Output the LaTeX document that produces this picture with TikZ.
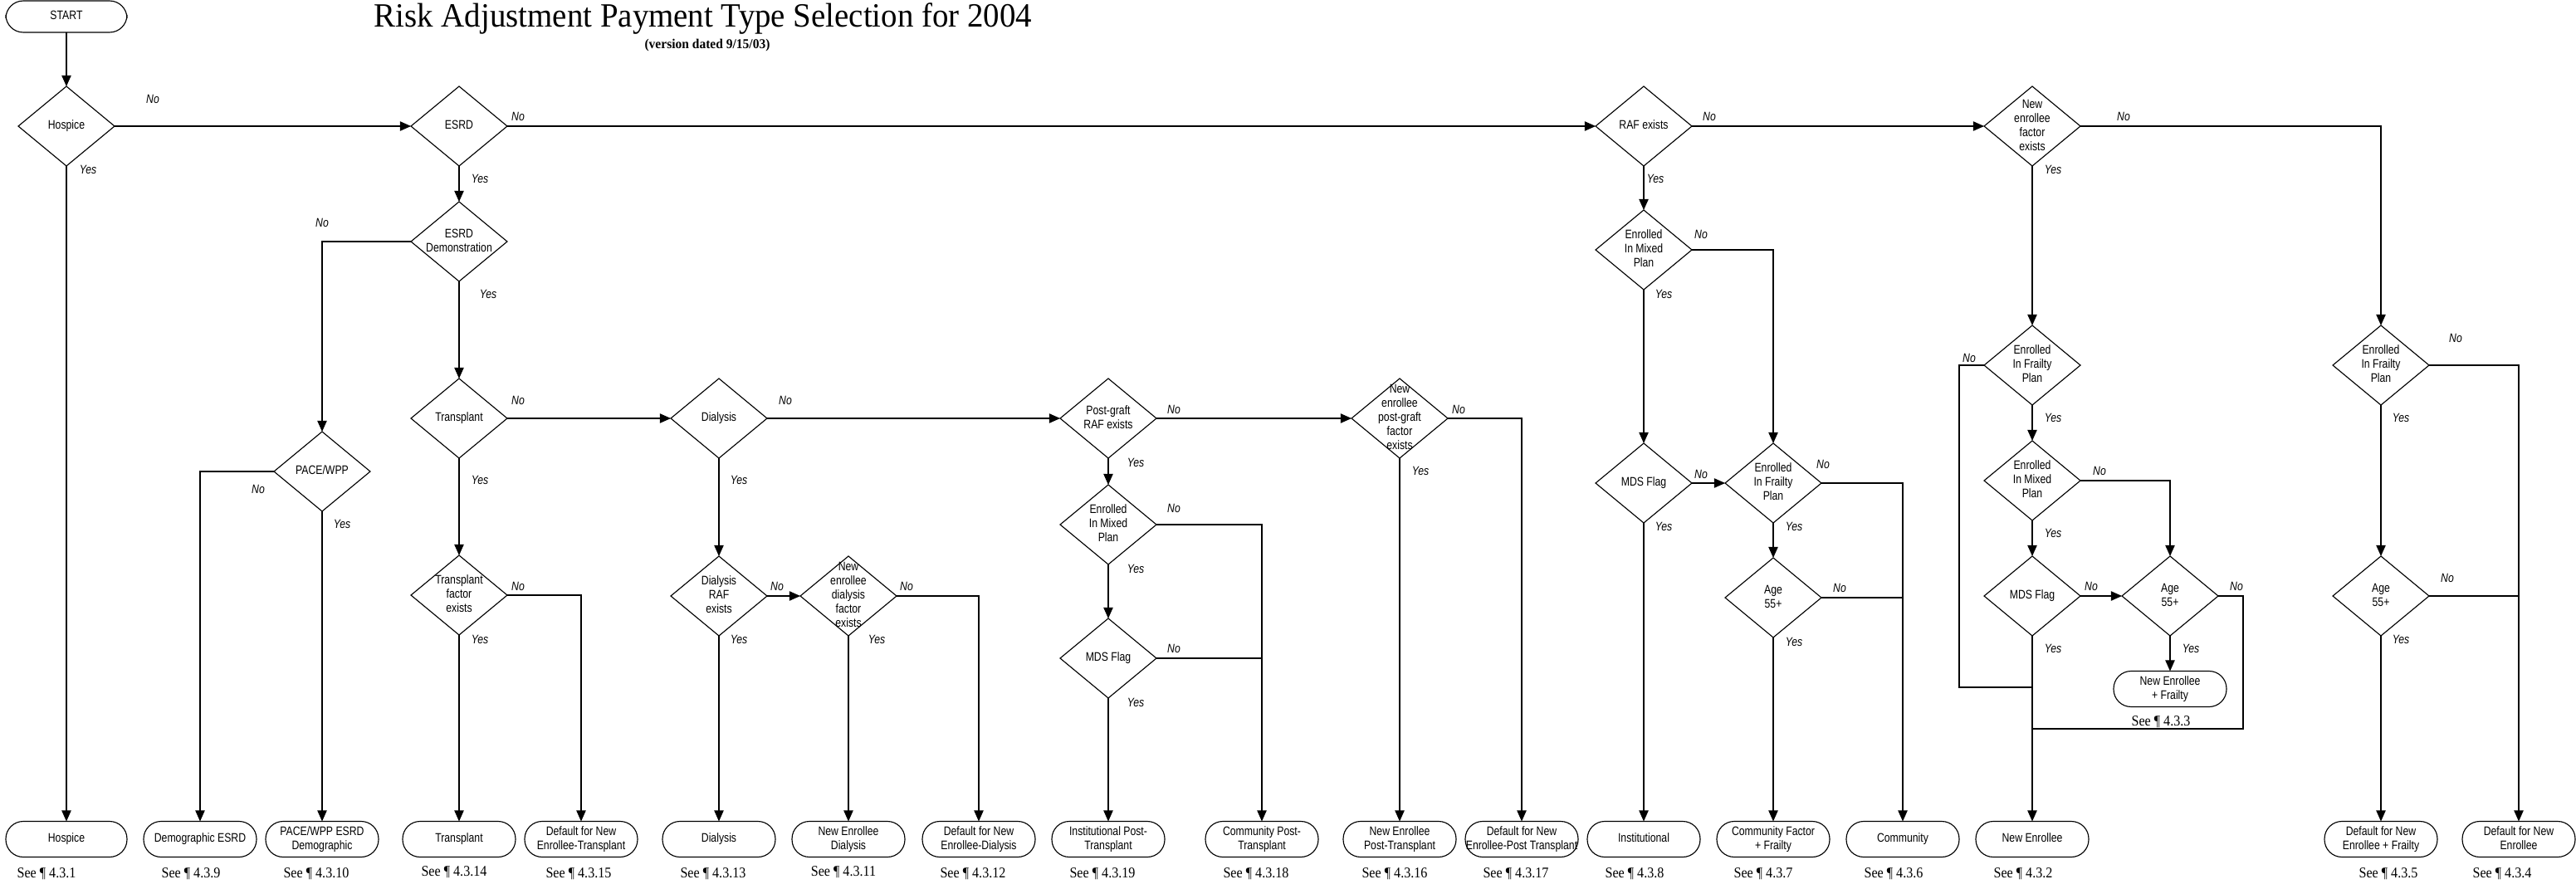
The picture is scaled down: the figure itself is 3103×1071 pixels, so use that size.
\documentclass[tikz,border=0pt]{standalone}
\usepackage{fontspec}
\setmainfont{Liberation Serif}
\newfontfamily\narrowsans[FakeStretch=0.82]{Liberation Sans}
\newfontfamily\narrowserif[FakeStretch=0.9]{Liberation Serif}
\newfontfamily\titleserif[FakeStretch=0.95]{Liberation Serif}
\usetikzlibrary{shapes.geometric,arrows.meta}
\newcommand{\ctr}[1]{\makebox[0pt]{\raisebox{-0.25em}[0pt][0pt]{\begin{tabular}{@{}c@{}}#1\end{tabular}}}}

\begin{document}
\begin{tikzpicture}[x=0.02cm,y=-0.02cm,line width=0.65pt,>={Triangle[length=7.5pt,width=6.5pt]},
	dec/.style={diamond,draw,inner sep=0pt,outer sep=0pt,minimum width=2.32cm,minimum height=1.92cm,font=\narrowsans\fontsize{8.5}{9.7}\selectfont},
	term/.style={rectangle,draw,rounded corners=0.42cm,inner sep=0pt,outer sep=0pt,minimum width=2.72cm,minimum height=0.86cm,font=\narrowsans\fontsize{8.5}{9.7}\selectfont},
	yn/.style={font=\narrowsans\itshape\fontsize{8.5}{9.7}\selectfont,inner sep=0pt},
	see/.style={font=\narrowserif\fontsize{10.2}{12}\selectfont,inner sep=0pt,anchor=base}]
	\useasboundingbox (0,0) rectangle (3103,1071);
	\node[font=\titleserif\fontsize{23.3}{26}\selectfont,anchor=base] (title) at (847,33) {Risk Adjustment Payment Type Selection for 2004};
	\node[font=\titleserif\bfseries\fontsize{9.3}{11}\selectfont,anchor=base] (version) at (852,59) {(version dated 9/15/03)};

	\node[term,minimum width=2.92cm,minimum height=0.76cm] (start) at (80,20) {\ctr{START}};
	\node[dec] (hosp) at (80,152) {\ctr{Hospice}};
	\node[dec] (esrd) at (553,152) {\ctr{ESRD}};
	\node[dec] (esrddemo) at (553,291) {\ctr{ESRD\\Demonstration}};
	\node[dec] (pace) at (388,568) {\ctr{PACE/WPP}};
	\node[dec] (trans) at (553,504) {\ctr{Transplant}};
	\node[dec] (transfac) at (553,717) {\ctr{Transplant\\factor\\exists}};
	\node[dec] (dial) at (866,504) {\ctr{Dialysis}};
	\node[dec] (dialraf) at (866,718) {\ctr{Dialysis\\RAF\\exists}};
	\node[dec] (nedial) at (1022,718) {\ctr{New\\enrollee\\dialysis\\factor\\exists}};
	\node[dec] (pgraf) at (1335,504) {\ctr{Post-graft\\RAF exists}};
	\node[dec] (pgmix) at (1335,632) {\ctr{Enrolled\\In Mixed\\Plan}};
	\node[dec] (pgmds) at (1335,793) {\ctr{MDS Flag}};
	\node[dec] (nepg) at (1686,504) {\ctr{New\\enrollee\\post-graft\\factor\\exists}};
	\node[dec] (raf) at (1980,152) {\ctr{RAF exists}};
	\node[dec] (mix) at (1980,301) {\ctr{Enrolled\\In Mixed\\Plan}};
	\node[dec] (mds) at (1980,582) {\ctr{MDS Flag}};
	\node[dec] (frail) at (2136,582) {\ctr{Enrolled\\In Frailty\\Plan}};
	\node[dec] (age) at (2136,720) {\ctr{Age\\55+}};
	\node[dec] (nefac) at (2448,152) {\ctr{New\\enrollee\\factor\\exists}};
	\node[dec] (nefrail) at (2448,440) {\ctr{Enrolled\\In Frailty\\Plan}};
	\node[dec] (nemix) at (2448,579) {\ctr{Enrolled\\In Mixed\\Plan}};
	\node[dec] (nemds) at (2448,718) {\ctr{MDS Flag}};
	\node[dec] (neage) at (2614,718) {\ctr{Age\\55+}};
	\node[dec] (ndfrail) at (2868,440) {\ctr{Enrolled\\In Frailty\\Plan}};
	\node[dec] (ndage) at (2868,718) {\ctr{Age\\55+}};

	\node[term,minimum width=2.92cm] (thosp) at (80,1011) {\ctr{Hospice}};
	\node[term] (tdemo) at (241,1011) {\ctr{Demographic ESRD}};
	\node[term] (tpace) at (388,1011) {\ctr{PACE/WPP ESRD\\Demographic}};
	\node[term] (ttrans) at (553,1011) {\ctr{Transplant}};
	\node[term] (tdeft) at (700,1011) {\ctr{Default for New\\Enrollee-Transplant}};
	\node[term] (tdial) at (866,1011) {\ctr{Dialysis}};
	\node[term] (tnedial) at (1022,1011) {\ctr{New Enrollee\\Dialysis}};
	\node[term] (tdefd) at (1179,1011) {\ctr{Default for New\\Enrollee-Dialysis}};
	\node[term] (tinstpt) at (1335,1011) {\ctr{Institutional Post-\\Transplant}};
	\node[term] (tcommpt) at (1520,1011) {\ctr{Community Post-\\Transplant}};
	\node[term] (tnept) at (1686,1011) {\ctr{New Enrollee\\Post-Transplant}};
	\node[term] (tdefpt) at (1833,1011) {\ctr{Default for New\\Enrollee-Post Transplant}};
	\node[term] (tinst) at (1980,1011) {\ctr{Institutional}};
	\node[term] (tcommf) at (2136,1011) {\ctr{Community Factor\\+ Frailty}};
	\node[term] (tcomm) at (2292,1011) {\ctr{Community}};
	\node[term] (tne) at (2448,1011) {\ctr{New Enrollee}};
	\node[term] (tnef) at (2614,830) {\ctr{New Enrollee\\+ Frailty}};
	\node[term] (tdefnf) at (2868,1011) {\ctr{Default for New\\Enrollee + Frailty}};
	\node[term] (tdefn) at (3034,1011) {\ctr{Default for New\\Enrollee}};

	\node[see] (s431) at (56,1057) {See ¶ 4.3.1};
	\node[see] (s439) at (230,1057) {See ¶ 4.3.9};
	\node[see] (s4310) at (381,1057) {See ¶ 4.3.10};
	\node[see] (s4314) at (547,1055) {See ¶ 4.3.14};
	\node[see] (s4315) at (697,1057) {See ¶ 4.3.15};
	\node[see] (s4313) at (859,1057) {See ¶ 4.3.13};
	\node[see] (s4311) at (1016,1055) {See ¶ 4.3.11};
	\node[see] (s4312) at (1172,1057) {See ¶ 4.3.12};
	\node[see] (s4319) at (1328,1057) {See ¶ 4.3.19};
	\node[see] (s4318) at (1513,1057) {See ¶ 4.3.18};
	\node[see] (s4316) at (1680,1057) {See ¶ 4.3.16};
	\node[see] (s4317) at (1826,1057) {See ¶ 4.3.17};
	\node[see] (s438) at (1969,1057) {See ¶ 4.3.8};
	\node[see] (s437) at (2124,1057) {See ¶ 4.3.7};
	\node[see] (s436) at (2281,1057) {See ¶ 4.3.6};
	\node[see] (s432) at (2437,1057) {See ¶ 4.3.2};
	\node[see] (s433) at (2603,874) {See ¶ 4.3.3};
	\node[see] (s435) at (2877,1057) {See ¶ 4.3.5};
	\node[see] (s434) at (3014,1057) {See ¶ 4.3.4};

	\path[->]
	 (start) edge (hosp)
	 (hosp) edge (esrd)
	        edge (thosp)
	 (esrd) edge (raf)
	        edge (esrddemo)
	 (esrddemo) edge (trans)
	 (pace) edge (tpace)
	 (trans) edge (dial)
	         edge (transfac)
	 (transfac) edge (ttrans)
	 (dial) edge (pgraf)
	        edge (dialraf)
	 (dialraf) edge (nedial)
	           edge (tdial)
	 (nedial) edge (tnedial)
	 (pgraf) edge (nepg)
	         edge (pgmix)
	 (pgmix) edge (pgmds)
	 (pgmds) edge (tinstpt)
	 (nepg) edge (tnept)
	 (raf) edge (nefac)
	       edge (mix)
	 (mix) edge (mds)
	 (mds) edge (frail)
	       edge (tinst)
	 (frail) edge (age)
	 (age) edge (tcommf)
	 (nefac) edge (nefrail)
	 (nefrail) edge (nemix)
	 (nemix) edge (nemds)
	 (nemds) edge (neage)
	         edge (tne)
	 (neage) edge (tnef)
	 (ndfrail) edge (ndage)
	 (ndage) edge (tdefnf);

	\draw[->] (esrddemo.west) -| (pace.north);
	\draw[->] (pace.west) -| (tdemo.north);
	\draw[->] (transfac.east) -| (tdeft.north);
	\draw[->] (nedial.east) -| (tdefd.north);
	\draw[->] (pgmix.east) -| (tcommpt.north);
	\draw (pgmds.east) -- (pgmds.east -| tcommpt.north);
	\draw[->] (nepg.east) -| (tdefpt.north);
	\draw[->] (mix.east) -| (frail.north);
	\draw[->] (frail.east) -| (tcomm.north);
	\draw (age.east) -- (age.east -| tcomm.north);
	\draw[->] (nefac.east) -| (ndfrail.north);
	\draw[->] (nemix.east) -| (neage.north);
	\draw[->] (ndfrail.east) -| (tdefn.north);
	\draw (ndage.east) -- (ndage.east -| tdefn.north);
	\coordinate (nejoin) at (2448,828);
	\coordinate (agejoin) at (2448,878);
	\draw (nefrail.west) -- ++(-30,0) |- (nejoin);
	\draw (neage.east) -- ++(30,0) |- (agejoin);

	\node[yn] (hospno) at (184,119) {No};
	\node[yn] (hospyes) at (106,204) {Yes};
	\node[yn] (esrdno) at (624,140) {No};
	\node[yn] (esrdyes) at (578,215) {Yes};
	\node[yn] (demono) at (388,268) {No};
	\node[yn] (demoyes) at (588,354) {Yes};
	\node[yn] (paceno) at (311,589) {No};
	\node[yn] (paceyes) at (412,631) {Yes};
	\node[yn] (transno) at (624,482) {No};
	\node[yn] (transyes) at (578,578) {Yes};
	\node[yn] (tfacno) at (624,706) {No};
	\node[yn] (tfacyes) at (578,770) {Yes};
	\node[yn] (dialno) at (946,482) {No};
	\node[yn] (dialyes) at (890,578) {Yes};
	\node[yn] (drafno) at (936,706) {No};
	\node[yn] (drafyes) at (890,770) {Yes};
	\node[yn] (nedno) at (1092,706) {No};
	\node[yn] (nedyes) at (1056,770) {Yes};
	\node[yn] (pgrafno) at (1414,493) {No};
	\node[yn] (pgrafyes) at (1368,557) {Yes};
	\node[yn] (pgmixno) at (1414,612) {No};
	\node[yn] (pgmixyes) at (1368,685) {Yes};
	\node[yn] (pgmdsno) at (1414,781) {No};
	\node[yn] (pgmdsyes) at (1368,846) {Yes};
	\node[yn] (nepgno) at (1757,493) {No};
	\node[yn] (nepgyes) at (1711,567) {Yes};
	\node[yn] (rafno) at (2059,140) {No};
	\node[yn] (rafyes) at (1994,215) {Yes};
	\node[yn] (mixno) at (2049,282) {No};
	\node[yn] (mixyes) at (2004,354) {Yes};
	\node[yn] (mdsno) at (2049,571) {No};
	\node[yn] (mdsyes) at (2004,634) {Yes};
	\node[yn] (frailno) at (2196,559) {No};
	\node[yn] (frailyes) at (2161,634) {Yes};
	\node[yn] (ageno) at (2216,708) {No};
	\node[yn] (ageyes) at (2161,773) {Yes};
	\node[yn] (nefacno) at (2558,140) {No};
	\node[yn] (nefacyes) at (2473,204) {Yes};
	\node[yn] (nefrailno) at (2372,431) {No};
	\node[yn] (nefrailyes) at (2473,503) {Yes};
	\node[yn] (nemixno) at (2529,567) {No};
	\node[yn] (nemixyes) at (2473,642) {Yes};
	\node[yn] (nemdsno) at (2519,706) {No};
	\node[yn] (nemdsyes) at (2473,781) {Yes};
	\node[yn] (neageno) at (2694,706) {No};
	\node[yn] (neageyes) at (2639,781) {Yes};
	\node[yn] (ndfrailno) at (2958,407) {No};
	\node[yn] (ndfrailyes) at (2892,503) {Yes};
	\node[yn] (ndageno) at (2948,696) {No};
	\node[yn] (ndageyes) at (2892,770) {Yes};
\end{tikzpicture}
\end{document}
